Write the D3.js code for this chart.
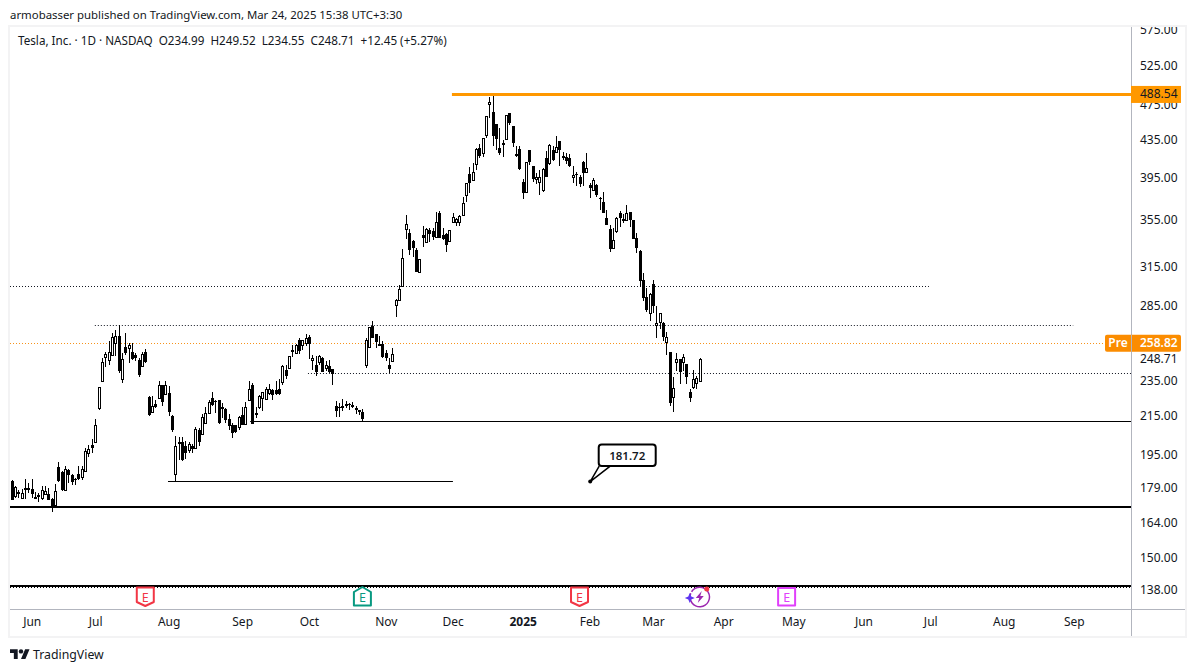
<!DOCTYPE html>
<html>
<head>
<meta charset="utf-8">
<script src="https://cdn.jsdelivr.net/npm/d3@7/dist/d3.min.js"></script>
<style>
  html, body { margin: 0; padding: 0; background: #fff; }
  text { font-family: "Noto Sans", sans-serif; fill: #131722; }
</style>
</head>
<body>
<div id="chart"></div>
<script>
const opens = [
  182.3,175.2,177.1,174.5,178.9,178.7,178.6,174.9,175.8,174.7,
  176.1,176.4,174.0,171.4,188.8,186.2,177.9,187.2,185.1,183.1,
  185.6,184.3,186.7,195.6,199.9,201.2,219.2,234.8,249.9,248.0,
  250.9,258.9,263.6,236.2,256.3,256.0,253.0,251.4,248.2,244.0,
  253.4,225.7,217.0,221.8,225.0,232.9,227.6,228.0,215.2,185.4,
  201.1,201.2,199.3,197.0,199.3,198.2,207.7,205.2,211.2,216.9,
  224.9,223.5,224.1,219.9,218.8,213.3,210.1,210.1,209.0,215.7,
  210.5,223.8,232.9,216.7,220.3,225.1,224.7,228.3,229.9,229.9,
  230.3,234.2,241.9,242.7,254.3,252.4,261.2,257.5,259.0,263.0,
  247.7,245.0,246.5,249.2,243.3,244.4,242.5,220.7,220.3,220.4,
  221.5,221.8,220.9,219.4,218.5,217.4,244.6,256.2,270.8,265.2,
  258.2,258.6,252.6,245.0,247.2,285.0,289.2,299.6,345.9,342.4,
  335.8,328.2,310.6,341.0,335.2,345.3,344.5,339.0,360.4,341.0,
  341.8,336.1,352.2,352.2,352.8,359.1,377.3,398.4,392.3,408.9,
  425.3,419.9,440.0,475.7,466.2,452.5,425.3,431.0,436.0,465.0,
  449.9,419.2,424.2,390.0,380.9,423.1,406.2,393.0,390.6,382.8,
  414.6,409.3,423.5,421.0,433.3,417.1,415.7,414.6,395.0,398.5,
  395.1,410.4,400.8,387.5,382.6,387.5,374.5,370.7,356.0,346.4,
  329.8,344.9,360.5,355.1,354.5,361.4,354.2,338.3,327.6,303.9,
  291.3,279.4,300.8,271.0,272.9,272.4,259.5,253.2,225.6,247.0,
  248.5,247.0,245.4,228.5,231.8,233.8,234.99
];
const highs = [
  182.5,179.7,178.2,178.5,183.1,181.2,183.1,177.0,176.7,180.0,
  179.7,178.9,174.5,180.9,191.2,186.7,189.4,187.8,185.6,183.6,
  189.1,189.1,198.1,199.9,202.7,213.3,231.5,249.2,252.8,260.0,
  265.6,267.8,271.3,252.4,265.6,258.9,258.9,252.4,249.2,253.4,
  255.0,226.5,226.5,224.1,234.8,232.9,235.2,231.9,215.7,204.5,
  203.8,203.8,201.6,201.4,200.4,209.1,208.6,216.2,220.0,224.1,
  228.6,224.1,224.1,222.2,219.6,216.1,211.2,210.1,215.2,220.0,
  222.7,235.2,233.8,220.0,226.9,228.5,231.4,233.4,230.3,235.2,
  236.5,245.0,244.6,250.5,257.9,258.2,262.5,261.2,265.2,264.5,
  251.4,250.3,251.4,249.7,247.2,248.2,242.5,223.5,222.2,224.6,
  223.5,222.2,222.7,220.7,218.5,219.0,262.5,269.9,274.0,265.2,
  263.9,260.5,254.6,249.2,255.7,289.6,300.4,329.2,358.8,345.9,
  336.7,329.6,320.7,349.0,347.4,346.8,346.8,361.9,362.5,346.8,
  342.4,345.3,360.4,355.8,358.8,375.4,389.6,405.2,409.3,426.0,
  429.6,436.5,462.4,484.3,488.54,452.7,447.6,434.5,462.8,465.2,
  450.1,427.8,428.2,393.3,411.1,423.3,406.4,399.8,402.6,404.2,
  422.4,429.6,428.2,438.9,433.5,421.7,419.9,418.9,406.2,400.2,
  397.5,412.0,420.0,389.2,394.2,388.5,375.5,380.3,363.6,349.9,
  347.0,356.6,362.7,359.6,368.3,362.0,354.3,342.6,328.4,309.4,
  297.8,294.0,304.2,284.6,279.4,273.0,266.2,253.4,237.4,252.7,
  248.7,251.9,245.4,230.4,241.8,238.2,249.52
];
const lows = [
  173.5,174.5,174.5,174.2,174.2,176.7,174.5,174.5,172.5,173.7,
  176.0,173.7,168.2,171.1,181.9,177.6,177.4,181.2,180.2,180.5,
  182.8,182.5,186.4,193.9,195.6,200.7,218.5,234.4,243.4,245.0,
  250.9,250.4,239.9,233.9,251.4,246.1,247.7,247.2,237.3,244.0,
  246.1,215.2,216.6,219.4,224.6,220.7,227.0,214.8,206.2,182.0,
  192.3,191.8,192.6,195.6,195.6,197.7,199.3,205.0,210.9,216.6,
  220.7,216.6,210.9,213.9,211.2,207.7,203.3,205.9,207.6,210.3,
  210.3,223.2,210.9,213.9,218.9,217.6,224.1,226.9,224.1,226.9,
  226.9,233.0,236.5,242.5,249.7,252.2,252.0,254.6,256.8,248.8,
  241.9,238.3,245.0,240.7,240.9,239.9,232.8,214.4,214.3,217.6,
  219.4,218.5,219.4,216.2,215.7,212.5,243.2,256.0,262.5,256.0,
  256.8,249.5,247.2,239.9,247.0,276.9,288.9,299.1,337.2,324.0,
  322.7,310.4,309.8,331.0,334.7,335.2,336.7,338.7,338.5,336.7,
  326.8,335.2,351.9,349.2,349.2,358.8,371.2,379.1,391.3,402.6,
  415.3,416.3,437.0,459.1,428.2,423.5,418.2,416.3,435.6,451.4,
  427.2,415.7,402.6,373.8,380.2,407.6,390.6,388.0,377.6,380.2,
  395.4,407.6,412.2,420.7,406.5,412.9,408.6,405.5,389.7,386.8,
  385.3,385.9,400.1,375.2,382.0,376.1,363.6,360.5,349.9,326.2,
  329.8,343.2,348.5,351.4,354.5,348.0,337.4,325.6,298.5,288.5,
  280.6,274.2,279.4,262.6,268.2,260.6,251.2,220.8,217.5,241.2,
  233.2,241.2,233.4,223.1,230.2,230.6,234.55
];
const closes = [
  173.7,179.4,176.4,176.7,179.0,178.9,176.4,175.0,175.9,178.0,
  177.6,173.7,171.1,177.6,182.2,178.2,188.0,184.8,181.6,182.5,
  183.1,187.8,196.8,197.5,198.2,210.1,231.5,246.7,252.0,253.0,
  262.7,263.6,240.9,248.6,252.4,257.6,248.6,249.2,238.9,252.0,
  246.5,215.7,220.7,219.8,232.9,222.6,232.9,217.0,207.7,199.2,
  201.2,192.0,195.9,200.2,197.7,208.2,201.5,214.4,216.6,222.6,
  221.2,222.6,211.2,220.0,213.0,209.4,205.9,206.2,214.4,210.3,
  220.0,230.3,210.9,216.8,226.4,228.5,230.3,230.3,226.6,227.6,
  227.2,244.4,238.3,250.5,254.4,257.9,254.0,261.0,262.5,258.1,
  249.2,240.7,250.7,240.7,245.0,240.7,239.1,217.9,219.2,220.5,
  221.7,220.9,221.1,219.6,217.4,213.6,261.0,269.7,262.5,259.4,
  258.4,249.7,249.1,242.5,251.8,289.2,297.4,321.8,350.4,328.2,
  329.6,310.6,320.5,338.7,345.9,341.8,339.5,352.2,338.7,337.6,
  332.4,345.0,356.7,355.2,357.6,369.7,389.0,389.3,400.8,424.5,
  417.5,436.3,462.2,479.2,439.3,435.6,420.3,431.2,462.6,454.1,
  431.5,417.1,403.5,379.1,410.4,411.1,393.3,395.0,395.0,403.2,
  395.7,428.9,412.9,426.4,423.9,414.6,412.2,406.2,397.4,397.2,
  388.5,399.8,404.2,384.2,392.5,377.7,373.6,361.1,350.2,329.0,
  336.6,356.0,355.7,355.3,360.5,354.5,338.0,330.3,303.0,290.5,
  281.8,293.2,284.9,272.4,279.4,263.3,262.9,222.1,230.8,248.5,
  240.6,250.2,237.8,225.4,236.2,236.8,248.71
];

const priceTicks = [575, 525, 475, 435, 395, 355, 315, 285, 235, 215, 195, 179, 164, 150, 138];
const monthLabels = ["Jun","Jul","Aug","Sep","Oct","Nov","Dec","2025","Feb","Mar","Apr","May","Jun","Jul","Aug","Sep"];
const monthBars = [6, 25, 47, 69, 89, 112, 132, 153, 173, 192, 213, 234, 255, 275, 297, 318];
const earningsBars = [40, 105, 170, 232];
const sparkBar = 206;
const peakPrice = 488.54, prePrice = 258.82, lastPrice = 248.71, calloutPrice = 181.72;
const calloutBar = 173.2;

const width = 1195, height = 672;
const paneLeft = 10, paneRight = 1131, paneTop = 27, paneBottom = 609;

const svg = d3.select("#chart").append("svg")
  .attr("width", width)
  .attr("height", height)
  .style("display", "block");

const x = d3.scaleLinear().domain([-0.5, 335.1]).range([paneLeft, paneRight]);
const y = d3.scaleLog().domain([579.4, 131.5]).range([paneTop, paneBottom]);

svg.append("defs").append("clipPath").attr("id", "pane")
  .append("rect").attr("x", paneLeft).attr("y", paneTop).attr("width", paneRight - paneLeft).attr("height", paneBottom - paneTop);
svg.select("defs").append("clipPath").attr("id", "scale")
  .append("rect").attr("x", paneRight).attr("y", paneTop).attr("width", 60).attr("height", paneBottom - paneTop);

// frame around the chart
svg.append("rect")
  .attr("x", 9).attr("y", 26).attr("width", 1177).attr("height", 611)
  .attr("fill", "none").attr("stroke", "#f3f3f4").attr("stroke-width", 2);

svg.append("text").attr("x", 10).attr("y", 19).attr("font-size", 11.4)
  .text("armobasser published on TradingView.com, Mar 24, 2025 15:38 UTC+3:30");

const pane = svg.append("g").attr("clip-path", "url(#pane)");

function level(price, from, to, w, color, dash) {
  const yy = Math.round(y(price)) + (w % 2 ? 0.5 : 0);
  pane.append("line")
    .attr("x1", x(from)).attr("x2", x(to))
    .attr("y1", yy).attr("y2", yy)
    .attr("stroke", color).attr("stroke-width", w)
    .attr("stroke-dasharray", dash || null);
}

level(299.5, -0.5, 274.6, 1, "#131722", "1 2");
level(271.1, 24.9, 317.8, 1, "#131722", "1 2");
level(prePrice, -0.5, 327, 1, "#f7931a", "1 2");
level(240, 88.7, 335.1, 1, "#131722", "1 2");
level(212.4, 71.4, 335.1, 1, "#000", null);
level(182, 46.8, 132.1, 1, "#000", null);
level(170.5, -0.5, 335.1, 2, "#000", null);
level(139.6, -0.5, 335.1, 2, "#000", null);
level(139, -0.5, 335.1, 1, "#000", "1 2");

// candles
const bars = d3.range(closes.length);
const candle = pane.append("g").selectAll("g").data(bars).enter().append("g")
  .attr("shape-rendering", "crispEdges");

candle.append("line")
  .attr("x1", d => Math.round(x(d)) + 0.5)
  .attr("x2", d => Math.round(x(d)) + 0.5)
  .attr("y1", d => y(highs[d]))
  .attr("y2", d => y(lows[d]))
  .attr("stroke", "#000");

candle.append("rect")
  .attr("x", d => closes[d] >= opens[d] ? Math.round(x(d)) - 0.5 : Math.round(x(d)) - 1)
  .attr("width", d => closes[d] >= opens[d] ? 2 : 3)
  .attr("y", d => {
    const t = Math.round(y(Math.max(opens[d], closes[d])));
    return closes[d] >= opens[d] ? t + 0.5 : t;
  })
  .attr("height", d => {
    const h = Math.round(y(Math.min(opens[d], closes[d]))) - Math.round(y(Math.max(opens[d], closes[d])));
    return Math.max(1, h);
  })
  .attr("fill", d => closes[d] >= opens[d] ? "#fff" : "#000")
  .attr("stroke", d => closes[d] >= opens[d] ? "#000" : "none");

level(peakPrice, 131.8, 335.1, 3, "#ff9800", null);

// callout for 181.72
const cx = x(calloutBar), cy = y(calloutPrice) - 0.5;
pane.append("circle").attr("cx", cx).attr("cy", cy).attr("r", 2).attr("fill", "#000");
pane.append("path")
  .attr("d", `M${cx} ${cy} L${cx + 9} ${cy - 15.5} M${cx} ${cy} L${cx + 20} ${cy - 15.5}`)
  .attr("stroke", "#000").attr("stroke-width", 1.5).attr("fill", "none");
pane.append("rect")
  .attr("x", cx + 8.5).attr("y", cy - 37).attr("width", 57).attr("height", 21.5).attr("rx", 3)
  .attr("fill", "#fff").attr("stroke", "#000").attr("stroke-width", 2);
pane.append("text")
  .attr("x", cx + 37).attr("y", cy - 22).attr("text-anchor", "middle")
  .attr("font-size", 11.5).attr("font-weight", 600).text(calloutPrice.toFixed(2));

// legend line
svg.append("text").attr("x", 18).attr("y", 45).attr("font-size", 11.7)
  .attr("xml:space", "preserve")
  .text("Tesla, Inc. \u00b7 1D \u00b7 NASDAQ  O234.99  H249.52  L234.55  C248.71  +12.45 (+5.27%)");

// earnings markers
function marker(bar, color, kind) {
  const g = pane.append("g").attr("transform", `translate(${x(bar)},${597})`);
  const shape = {
    down: "M-8.5 -9.5 H8.5 V5 L0 9 L-8.5 5 Z",
    up: "M-8.5 8.5 H8.5 V-5 L0 -10 L-8.5 -5 Z",
    box: "M-8.5 -9 H8.5 V8.5 H-8.5 Z"
  }[kind];
  g.append("path").attr("d", shape).attr("fill", "#fff")
    .attr("stroke", color).attr("stroke-width", 2).attr("stroke-linejoin", "round");
  g.append("text").attr("text-anchor", "middle").attr("y", 4.5)
    .attr("font-size", 12.5).style("fill", color).text("E");
}
marker(earningsBars[0], "#f23645", "down");
marker(earningsBars[1], "#089981", "up");
marker(earningsBars[2], "#f23645", "down");
marker(earningsBars[3], "#e040fb", "box");

// the news sign at the last bar
const spark = pane.append("g").attr("transform", `translate(${x(sparkBar)},597)`);
spark.append("path")
  .attr("d", d3.arc()({ innerRadius: 9, outerRadius: 10.5, startAngle: -1.0, endAngle: 5.1 }))
  .attr("fill", "#9c27b0");
spark.append("path").attr("d", "M2 -6 L-4 1 H-0.5 L-2 6 L4 -1 H0.5 Z").attr("fill", "#9c27b0");
spark.append("path").attr("d", "M-10 -4 L-8.5 -0.5 L-5 1 L-8.5 2.5 L-10 6 L-11.5 2.5 L-15 1 L-11.5 -0.5 Z").attr("fill", "#5e35f0");
spark.append("circle").attr("cx", 7).attr("cy", -8).attr("r", 2.5).attr("fill", "#f23645");

// price scale
const yAxis = svg.append("g").attr("clip-path", "url(#scale)").append("g")
  .attr("transform", `translate(${paneRight},0)`)
  .call(d3.axisRight(y).tickValues(priceTicks).tickSize(0).tickPadding(9).tickFormat(d => d.toFixed(2)));
yAxis.select(".domain").remove();
yAxis.selectAll("text").attr("font-size", 12);

// time scale
const xAxis = svg.append("g")
  .attr("transform", `translate(0,${paneBottom})`)
  .call(d3.axisBottom(x).tickValues(monthBars).tickSize(0).tickPadding(8).tickFormat((d, i) => monthLabels[i]));
xAxis.select(".domain").remove();
xAxis.selectAll("text").attr("font-size", 12)
  .attr("font-weight", (d, i) => monthLabels[i] === "2025" ? 700 : 400);

svg.append("line").attr("x1", paneRight + 0.5).attr("x2", paneRight + 0.5).attr("y1", paneTop).attr("y2", 636)
  .attr("stroke", "#b2b5be");
svg.append("line").attr("x1", paneLeft).attr("x2", 1185).attr("y1", paneBottom + 0.5).attr("y2", paneBottom + 0.5)
  .attr("stroke", "#b2b5be");

// tags on the price scale
svg.append("rect").attr("x", paneRight).attr("y", y(peakPrice) - 8).attr("width", 50).attr("height", 17)
  .attr("fill", "#ff9800");
svg.append("text").attr("x", paneRight + 9).attr("y", y(peakPrice) + 4.5).attr("font-size", 12)
  .text(peakPrice.toFixed(2));

svg.append("rect").attr("x", 1105).attr("y", y(prePrice) - 8.5).attr("width", 76).attr("height", 17).attr("rx", 2)
  .attr("fill", "#fb8c00");
svg.append("line").attr("x1", paneRight + 0.5).attr("x2", paneRight + 0.5).attr("y1", y(prePrice) - 8.5).attr("y2", y(prePrice) + 8.5)
  .attr("stroke", "#b2b5be");
svg.append("text").attr("x", 1118).attr("y", y(prePrice) + 4).attr("font-size", 12).attr("text-anchor", "middle")
  .style("fill", "#fff").attr("font-weight", 600).text("Pre");
svg.append("text").attr("x", paneRight + 9).attr("y", y(prePrice) + 4).attr("font-size", 12)
  .style("fill", "#fff").attr("font-weight", 600).text(prePrice.toFixed(2));
svg.append("text").attr("x", paneRight + 9).attr("y", y(lastPrice) + 4).attr("font-size", 12)
  .text(lastPrice.toFixed(2));

// logo at the bottom
const logo = svg.append("g").attr("transform", "translate(10,647) scale(0.55)");
logo.append("path").attr("d", "M14 22H7V11H0V4h14v18z M28 22h-8l7.5-18h8L28 22z").attr("fill", "#131722");
logo.append("circle").attr("cx", 20).attr("cy", 8).attr("r", 4).attr("fill", "#131722");
svg.append("text").attr("x", 33).attr("y", 659).attr("font-size", 12.3).text("TradingView");
</script>
</body>
</html>
